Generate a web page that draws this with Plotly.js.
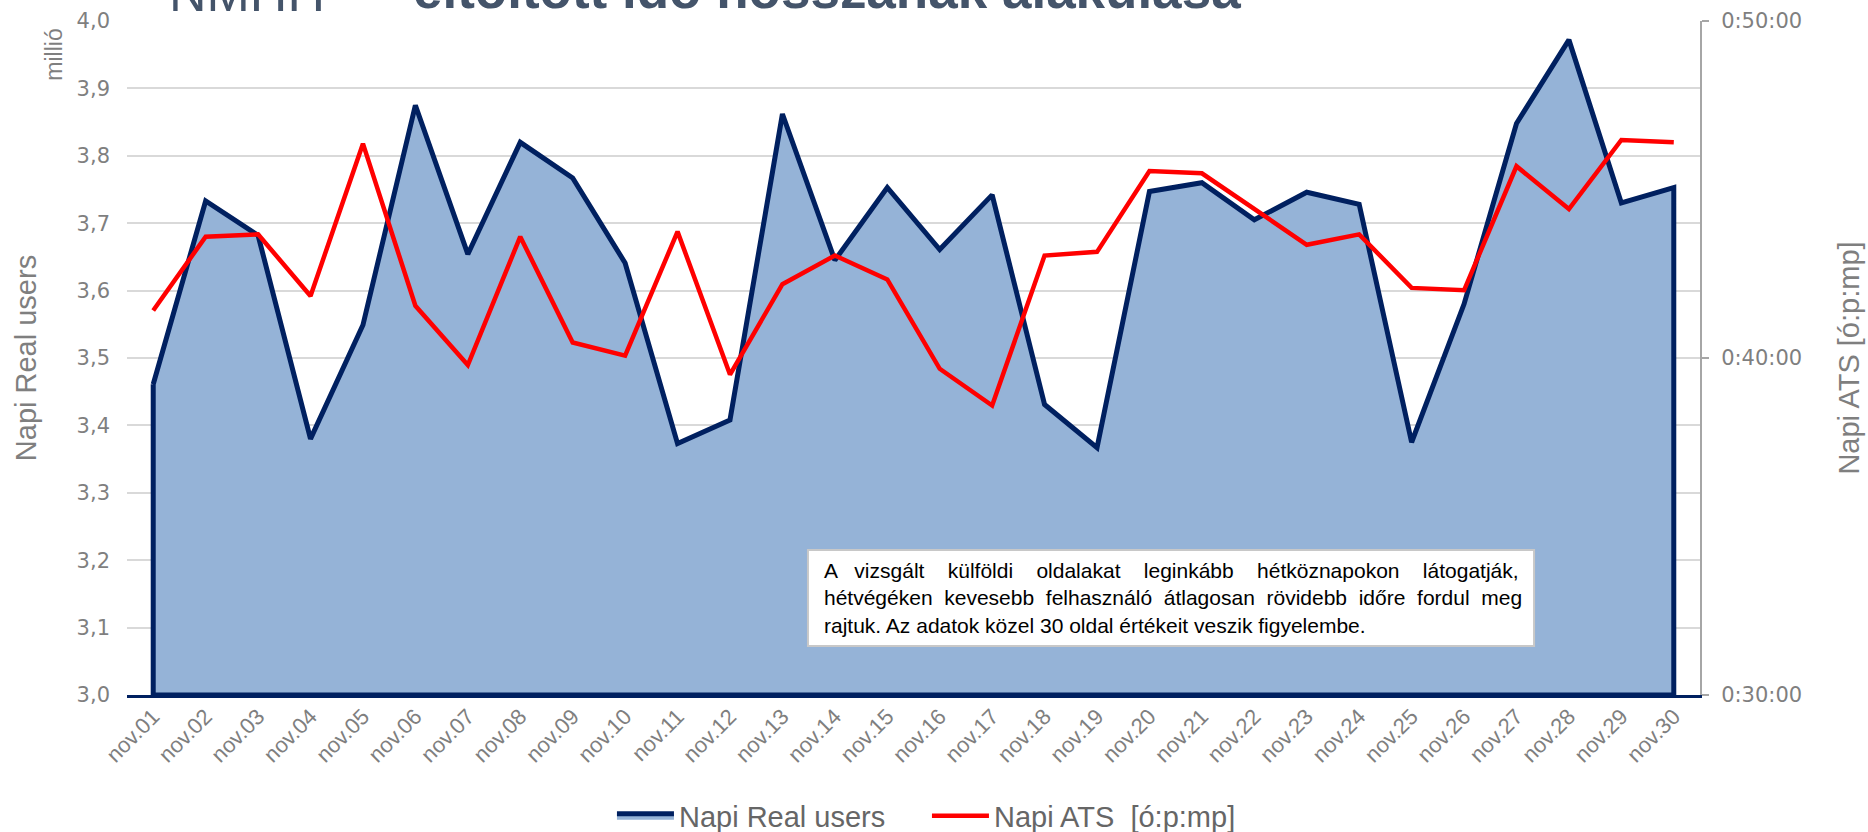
<!DOCTYPE html>
<html><head><meta charset="utf-8">
<script src="https://cdn.plot.ly/plotly-3.0.1.min.js"></script>
<style>html,body{margin:0;padding:0;background:#fff;} #chart{width:1868px;height:832px;}</style>
</head><body><div id="chart"></div>
<script>
const days = ['nov.01','nov.02','nov.03','nov.04','nov.05','nov.06','nov.07','nov.08','nov.09','nov.10',
  'nov.11','nov.12','nov.13','nov.14','nov.15','nov.16','nov.17','nov.18','nov.19','nov.20',
  'nov.21','nov.22','nov.23','nov.24','nov.25','nov.26','nov.27','nov.28','nov.29','nov.30'];
// Napi Real users (millió)
const realUsers = [3.461,3.733,3.682,3.380,3.549,3.875,3.654,3.820,3.767,3.641,
  3.373,3.408,3.862,3.645,3.753,3.661,3.742,3.431,3.367,3.747,
  3.760,3.705,3.746,3.728,3.375,3.580,3.848,3.972,3.730,3.753];
// Napi ATS in minutes
const atsMinutes = [41.41,43.60,43.67,41.84,46.36,41.55,39.79,43.60,40.46,40.07,
  43.75,39.51,42.19,43.04,42.33,39.68,38.59,43.04,43.15,45.55,
  45.48,44.42,43.36,43.67,42.08,42.01,45.69,44.42,46.47,46.40];
const usersRange = [3.0, 4.0];
const atsRange = [30, 50];
const atsTickVals = [30, 40, 50];
const atsTickText = ['0:30:00', '0:40:00', '0:50:00'];
const seriesNames = ['Napi Real users', 'Napi ATS\u00a0 [ó:p:mp]'];
const titleText = 'eltöltött idő hosszának alakulása';
const logoText = 'NMHH';
const unitText = 'millió';
const noteLines = [
  'A vizsgált külföldi oldalakat leginkább hétköznapokon látogatják,',
  'hétvégéken kevesebb felhasználó átlagosan rövidebb időre fordul meg',
  'rajtuk. Az adatok közel 30 oldal értékeit veszik figyelembe.'
];

const FONT = 'Liberation Sans, Arial, sans-serif';
const TICKFONT = 'DejaVu Sans, Verdana, sans-serif';

function justify(line, width, font) {
  const ctx = document.createElement('canvas').getContext('2d');
  ctx.font = font;
  const words = line.split(' ');
  const natural = ctx.measureText(line).width;
  const nb = ctx.measureText('\u00a0').width;
  const gaps = words.length - 1;
  const extra = Math.max(0, Math.round((width - natural) / nb));
  let out = words[0];
  for (let i = 1; i < words.length; i++) {
    const add = Math.floor(extra * i / gaps) - Math.floor(extra * (i - 1) / gaps);
    out += ' ' + '\u00a0'.repeat(add) + words[i];
  }
  return out;
}
const noteFont = '21px "Liberation Sans"';
const noteText = noteLines.map((l, i) => i < noteLines.length - 1 ? justify(l, 698, noteFont) : l).join('<br>');

const last = days.length - 1;
const areaX = days.concat([days[last], days[0], days[0]]);
const areaY = realUsers.concat([usersRange[0], usersRange[0], realUsers[0]]);

const traces = [
  {
    x: areaX, y: areaY, type: 'scatter', mode: 'lines', name: seriesNames[0],
    fill: 'toself', fillcolor: '#95B3D7',
    line: {color: '#002060', width: 5, shape: 'linear'},
    hoverinfo: 'skip'
  },
  {
    x: days, y: atsMinutes, type: 'scatter', mode: 'lines', name: seriesNames[1],
    yaxis: 'y2', line: {color: '#FF0000', width: 4.5}
  }
];

const layout = {
  width: 1868, height: 832,
  margin: {l: 127, r: 168, t: 21, b: 137, autoexpand: false},
  paper_bgcolor: '#ffffff', plot_bgcolor: '#ffffff',
  separators: ', ',
  showlegend: true,
  xaxis: {
    type: 'category', categoryorder: 'array', categoryarray: days,
    range: [-0.5, days.length - 0.5],
    showgrid: false, zeroline: false,
    showline: true, linecolor: '#002060', linewidth: 3,
    ticks: '', tickangle: -45,
    tickfont: {family: FONT, size: 22, color: '#7f7f7f'},
    ticklabelstandoff: -3
  },
  yaxis: {
    range: usersRange, dtick: 0.1, tick0: 3.0, tickformat: '.1f',
    showgrid: true, gridcolor: '#d9d9d9', gridwidth: 2,
    zeroline: false, showline: false, ticks: '',
    tickfont: {family: TICKFONT, size: 21, color: '#7f7f7f'},
    ticklabelstandoff: 16,
    title: {text: 'Napi Real users', font: {family: FONT, size: 29, color: '#7f7f7f'}, standoff: 31}
  },
  yaxis2: {
    range: atsRange, overlaying: 'y', side: 'right',
    tickvals: atsTickVals, ticktext: atsTickText,
    showgrid: false, zeroline: false,
    showline: true, linecolor: '#a6a6a6', linewidth: 2,
    ticks: 'outside', ticklen: 7, tickcolor: '#a6a6a6', tickwidth: 2,
    tickfont: {family: TICKFONT, size: 21, color: '#7f7f7f'},
    ticklabelstandoff: 8,
    title: {text: 'Napi ATS [ó:p:mp]', font: {family: FONT, size: 29, color: '#7f7f7f'}, standoff: 38}
  },
  legend: {
    orientation: 'h', x: 0.3083, xanchor: 'left', y: -0.1795, yanchor: 'middle',
    font: {family: FONT, size: 29, color: '#666666'},
    bgcolor: 'rgba(0,0,0,0)', itemwidth: 57, entrywidth: 243, entrywidthmode: 'pixels'
  },
  shapes: [
    {type: 'rect', xref: 'paper', yref: 'paper', x0: 0.4329, x1: 0.8945, y0: 0.0727, y1: 0.2151,
      fillcolor: '#ffffff', line: {color: '#c8c8c8', width: 2}, layer: 'above'}
  ],
  annotations: [
    {text: titleText, xref: 'paper', yref: 'paper', x: 0.1805, y: 1, xanchor: 'left', yanchor: 'bottom',
      showarrow: false, yshift: 0, font: {family: FONT, size: 53, color: '#44546A', weight: 700}},
    {text: logoText, xref: 'paper', yref: 'paper', x: 0.0254, y: 1, xanchor: 'left', yanchor: 'bottom',
      showarrow: false, yshift: -3, font: {family: FONT, size: 52, color: '#44546A'}},
    {text: unitText, xref: 'paper', yref: 'paper', x: -0.0464, y: 0.950, xanchor: 'center', yanchor: 'middle',
      textangle: -90, showarrow: false, font: {family: FONT, size: 23, color: '#7f7f7f'}},
    {text: noteText, xref: 'paper', yref: 'paper', x: 0.4418, y: 0.1439, xanchor: 'left', yanchor: 'middle',
      align: 'left', showarrow: false, font: {family: FONT, size: 21, color: '#000000'}}
  ]
};

Plotly.newPlot('chart', traces, layout, {displayModeBar: false, staticPlot: true});
</script>
</body></html>
